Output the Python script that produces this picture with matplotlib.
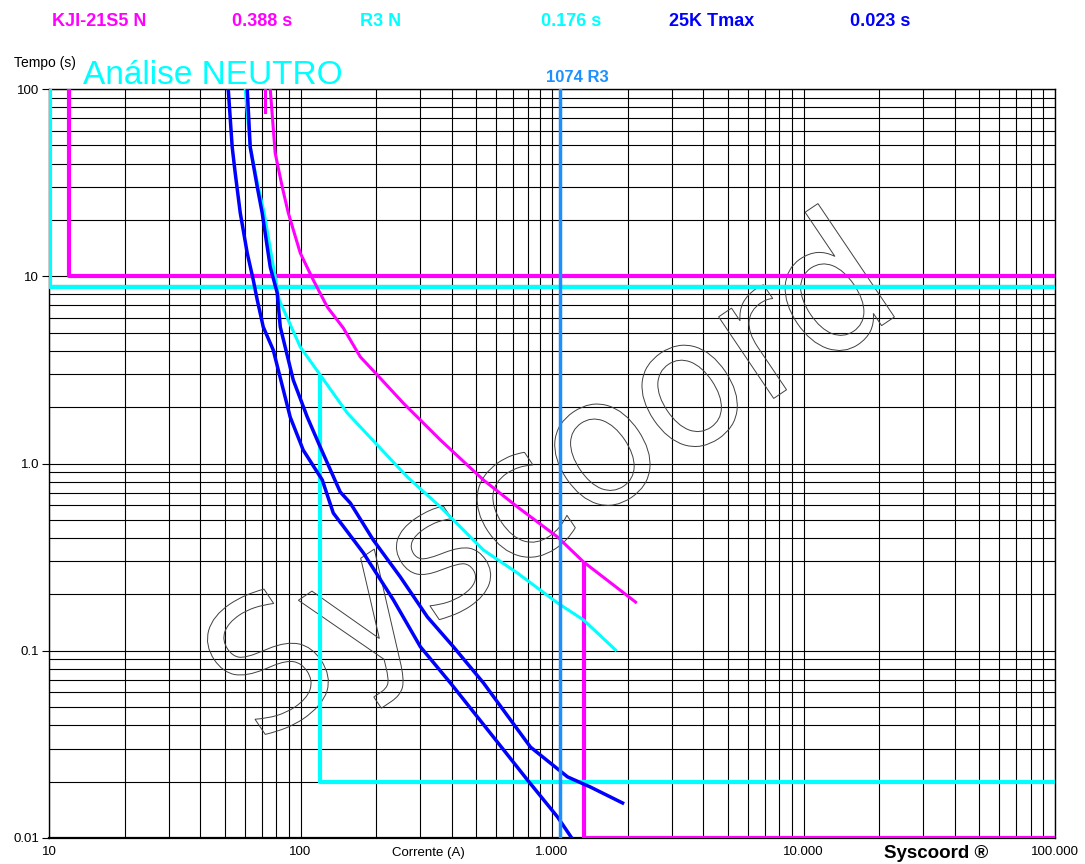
"""
Coordenograma de proteção - Análise NEUTRO (log-log, tempo x corrente).
Salva out.png.
"""

import matplotlib
matplotlib.use("Agg")
import matplotlib.pyplot as plt
import matplotlib.ticker as ticker
import matplotlib.transforms as mtransforms
from matplotlib.textpath import TextPath
from matplotlib.patches import PathPatch
from matplotlib.font_manager import FontProperties

plt.rcParams["font.family"] = ["Liberation Sans", "DejaVu Sans"]

# ------------------------------------------------------------------
# Dados (corrente em A, tempo em s)
# ------------------------------------------------------------------
# Relé KJI-21S5 N (magenta)
kji_i = [75.8, 79.3, 84.6, 89.4, 99.8, 112.4, 127.8, 148, 172.9, 202,
         256.4, 360, 534, 729, 1052, 1335, 2149]
kji_t = [100, 45.5, 30.0, 21.8, 13.3, 9.55, 6.85, 5.29, 3.71, 2.97,
         2.10, 1.335, 0.816, 0.586, 0.405, 0.298, 0.182]
kji_pick_i = [12.0, 12.0, 100000]
kji_pick_t = [100, 10, 10]
kji_inst_i = [1335, 1335, 100000]
kji_inst_t = [0.298, 0.01, 0.01]
kji_stub_i = [72.4, 72.4]
kji_stub_t = [100, 75]

# Religador R3 N (ciano)
r3_i = [60.3, 63.1, 67.9, 71.7, 77.2, 82.3, 99.8, 119.8, 153.5, 202,
        266, 360, 534, 729, 1052, 1335, 1789]
r3_t = [100, 49.0, 30.0, 21.8, 12.2, 7.47, 4.19, 2.97, 1.86, 1.255,
        0.847, 0.586, 0.345, 0.260, 0.180, 0.146, 0.101]
r3_pick_i = [10.1, 10.1, 100000]
r3_pick_t = [100, 8.8, 8.8]
r3_def_i = [119.8, 119.8, 100000]
r3_def_t = [2.97, 0.02, 0.02]

# Elo 25K (azul) - curva mínima e Tmax
k25_min_i = [51.6, 53.5, 55.0, 57.6, 61.4, 64.9, 67.3, 71.1, 77.9, 91.0,
             102.5, 122.1, 135, 177.8, 234, 299.7, 394.5, 585, 799, 1052, 1300]
k25_min_t = [100, 49.0, 35.6, 21.8, 13.3, 9.55, 7.47, 5.36, 4.04, 1.77,
             1.18, 0.816, 0.544, 0.333, 0.187, 0.105, 0.0673, 0.0346,
             0.0204, 0.01295, 0.0085]
k25_max_i = [61.4, 63.1, 67.3, 70.4, 75.8, 80.8, 83.1, 93.6, 106.4, 119.8,
             143.9, 157.8, 194.8, 249.5, 319.6, 405.5, 534, 821, 1153,
             1423, 1908]
k25_max_t = [100, 49.0, 30.0, 21.8, 11.2, 8.14, 5.36, 2.79, 1.77, 1.225,
             0.704, 0.615, 0.390, 0.2476, 0.1515, 0.105, 0.0673, 0.0306,
             0.0212, 0.0187, 0.01538]

r3_marker = 1074

x_ticks = [10, 100, 1000, 10000, 100000]
x_labels = ["10", "100", "1.000", "10.000", "100.000"]
y_ticks = [0.01, 0.1, 1, 10, 100]
y_labels = ["0.01", "0.1", "1.0", "10", "100"]

header = [("KJI-21S5 N", 52, "#FF00FF"), ("0.388 s", 232, "#FF00FF"),
          ("R3 N", 360, "#00FFFF"), ("0.176 s", 541, "#00FFFF"),
          ("25K Tmax", 669, "#0000FF"), ("0.023 s", 850, "#0000FF")]

MAG = "#FF00FF"
CYA = "#00FFFF"
BLU = "#0000FF"
RLB = "#1E8FFF"

W, H = 1085, 864


def fx(px):
    return px / W


def fy(py):
    return 1 - py / H


fig = plt.figure(figsize=(10.85, 8.64), dpi=100)
ax = fig.add_axes([fx(49), fy(838), (1055 - 49) / W, (838 - 89) / H])
ax.set_xscale("log")
ax.set_yscale("log")
ax.set_xlim(10, 100000)
ax.set_ylim(0.01, 100)

# grade preta (maior e menor)
ax.set_axisbelow(True)
ax.grid(True, which="both", color="black", linewidth=0.8)
ax.xaxis.set_major_locator(ticker.FixedLocator(x_ticks))
ax.xaxis.set_major_formatter(ticker.FixedFormatter(x_labels))
ax.yaxis.set_major_locator(ticker.FixedLocator(y_ticks))
ax.yaxis.set_major_formatter(ticker.FixedFormatter(y_labels))
ax.xaxis.set_minor_locator(ticker.LogLocator(base=10, subs=range(2, 10)))
ax.yaxis.set_minor_locator(ticker.LogLocator(base=10, subs=range(2, 10)))
ax.xaxis.set_minor_formatter(ticker.NullFormatter())
ax.yaxis.set_minor_formatter(ticker.NullFormatter())
ax.tick_params(axis="x", which="both", length=0, pad=6, labelsize=9.5)
ax.tick_params(axis="y", which="major", length=5, width=0.8, pad=2,
               labelsize=9.5)
ax.tick_params(axis="y", which="minor", length=0)
for s in ax.spines.values():
    s.set_linewidth(1.0)
ax.spines["bottom"].set_linewidth(1.6)

# marca d'água "Syscoord" contornada
tp = TextPath((0, 0), "Syscoord", size=1, prop=FontProperties(family="DejaVu Sans"))
bb = tp.get_extents()
tr = (mtransforms.Affine2D()
      .translate(-(bb.x0 + bb.x1) / 2, -0.35)
      .scale(172, 180)
      .rotate_deg(34)
      .translate(546, H - 476))
wm = PathPatch(tr.transform_path(tp), facecolor="none", edgecolor="#404040",
               linewidth=0.7, transform=mtransforms.IdentityTransform(),
               zorder=1)
ax.add_artist(wm)

# curvas
ax.plot(kji_pick_i, kji_pick_t, color=MAG, lw=3, zorder=3, solid_capstyle="butt")
ax.plot(r3_pick_i, r3_pick_t, color=CYA, lw=3, zorder=3, solid_capstyle="butt")
ax.plot(kji_inst_i, kji_inst_t, color=MAG, lw=3, zorder=3, solid_capstyle="butt")
ax.plot(r3_def_i, r3_def_t, color=CYA, lw=3, zorder=3, solid_capstyle="butt")
ax.plot(kji_stub_i, kji_stub_t, color=MAG, lw=2.2, zorder=3)
ax.plot(r3_i, r3_t, color=CYA, lw=2.2, zorder=3)
ax.plot(kji_i, kji_t, color=MAG, lw=2.2, zorder=3)
ax.plot(k25_min_i, k25_min_t, color=BLU, lw=2.5, zorder=4)
ax.plot(k25_max_i, k25_max_t, color=BLU, lw=2.5, zorder=4)
ax.axvline(r3_marker, color=RLB, lw=2.5, zorder=5)

# textos
for txt, px, col in header:
    fig.text(fx(px), fy(22), txt, color=col, fontsize=13, fontweight="bold",
             ha="left", va="center")
fig.text(fx(14), fy(63), "Tempo (s)", fontsize=10, ha="left", va="center")
fig.text(fx(83), fy(75), "Análise NEUTRO", color=CYA, fontsize=24,
         ha="left", va="center")
fig.text(fx(577), fy(78), f"{r3_marker} R3", color=RLB, fontsize=12,
         fontweight="bold", ha="center", va="center")
fig.text(fx(428), fy(853), "Corrente (A)", fontsize=9.5, ha="center", va="center")
fig.text(fx(936), fy(853), "Syscoord ®", fontsize=13.5, fontweight="bold",
         ha="center", va="center")

fig.savefig("out.png", dpi=100)
